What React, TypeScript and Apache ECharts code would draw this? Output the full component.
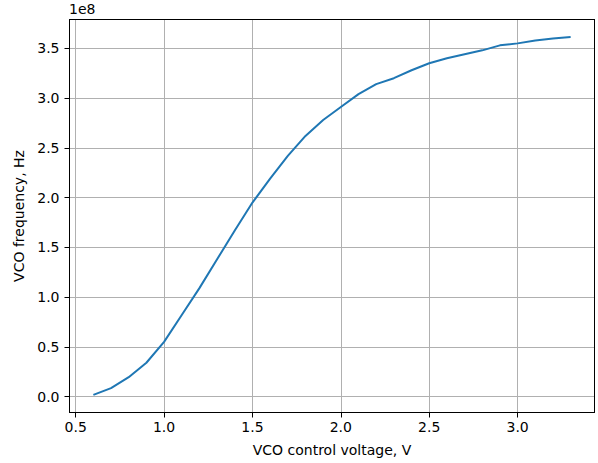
import React, { useEffect, useRef } from "react";
import * as echarts from "echarts";

const voltages = [0.6, 0.7, 0.8, 0.9, 1.0, 1.1, 1.2, 1.3, 1.4, 1.5, 1.6, 1.7, 1.8, 1.9, 2.0, 2.1, 2.2, 2.3, 2.4, 2.5, 2.6, 2.7, 2.8, 2.9, 3.0, 3.1, 3.2, 3.3];
const freqE8 = [0.017, 0.085, 0.195, 0.34, 0.55, 0.82, 1.09, 1.38, 1.67, 1.95, 2.19, 2.42, 2.62, 2.78, 2.91, 3.04, 3.14, 3.20, 3.28, 3.35, 3.40, 3.44, 3.48, 3.53, 3.55, 3.58, 3.60, 3.615];
const xTicks = [0.5, 1.0, 1.5, 2.0, 2.5, 3.0];
const yTicksE8 = [0.0, 0.5, 1.0, 1.5, 2.0, 2.5, 3.0, 3.5];

const FONT = "DejaVu Sans";
const FS = 14;

export default function App() {
  const ref = useRef<HTMLDivElement>(null);
  useEffect(() => {
    if (!ref.current) return;
    const chart = echarts.init(ref.current, undefined, { renderer: "svg" });
    const xMin = 0.465, xMax = 3.435;
    const yMin = -0.16e8, yMax = 3.79e8;
    const yTicks = yTicksE8.map((v) => v * 1e8);
    chart.setOption({
      animation: false,
      backgroundColor: "#ffffff",
      grid: { left: 69.5, right: 3.5, top: 19.5, bottom: 50.5, containLabel: false, outerBoundsMode: "none" },
      graphic: [
        {
          type: "text",
          left: 69,
          top: 2,
          style: { text: "1e8", font: `${FS}px '${FONT}'`, fill: "#000" },
        },
      ],
      xAxis: [
        {
          type: "value",
          min: xMin,
          max: xMax,
          name: "VCO control voltage, V",
          nameLocation: "middle",
          nameGap: 30,
          nameTextStyle: { fontFamily: FONT, fontSize: FS, color: "#000" },
          axisLine: { show: true, onZero: false, lineStyle: { color: "#000", width: 1 } },
          axisTick: { show: true, length: 5, inside: false, customValues: xTicks, lineStyle: { color: "#000", width: 1 } },
          axisLabel: { customValues: xTicks, fontFamily: FONT, fontSize: FS, color: "#000", margin: 7, formatter: (v: number) => v.toFixed(1) },
          splitLine: { show: true, lineStyle: { color: "#b0b0b0", width: 1 } },
        },
        {
          type: "value",
          position: "top",
          min: xMin,
          max: xMax,
          axisLine: { show: true, onZero: false, lineStyle: { color: "#000", width: 1 } },
          axisTick: { show: false },
          axisLabel: { show: false },
          splitLine: { show: false },
        },
      ],
      yAxis: [
        {
          type: "value",
          min: yMin,
          max: yMax,
          name: "VCO frequency, Hz",
          nameLocation: "middle",
          nameGap: 43,
          nameTextStyle: { fontFamily: FONT, fontSize: FS, color: "#000" },
          axisLine: { show: true, onZero: false, lineStyle: { color: "#000", width: 1 } },
          axisTick: { show: true, length: 5, inside: false, customValues: yTicks, lineStyle: { color: "#000", width: 1 } },
          axisLabel: { customValues: yTicks, fontFamily: FONT, fontSize: FS, color: "#000", margin: 10, formatter: (v: number) => (v / 1e8).toFixed(1) },
          splitLine: { show: true, lineStyle: { color: "#b0b0b0", width: 1 } },
        },
        {
          type: "value",
          position: "right",
          min: yMin,
          max: yMax,
          axisLine: { show: true, onZero: false, lineStyle: { color: "#000", width: 1 } },
          axisTick: { show: false },
          axisLabel: { show: false },
          splitLine: { show: false },
        },
      ],
      series: [
        {
          type: "line",
          data: voltages.map((v, i) => [v, freqE8[i] * 1e8]),
          showSymbol: false,
          lineStyle: { color: "#1f77b4", width: 2 },
          itemStyle: { color: "#1f77b4" },
        },
      ],
    });
    return () => chart.dispose();
  }, []);
  return <div ref={ref} style={{ width: 598, height: 463, position: "absolute", left: 0, top: 0 }} />;
}
